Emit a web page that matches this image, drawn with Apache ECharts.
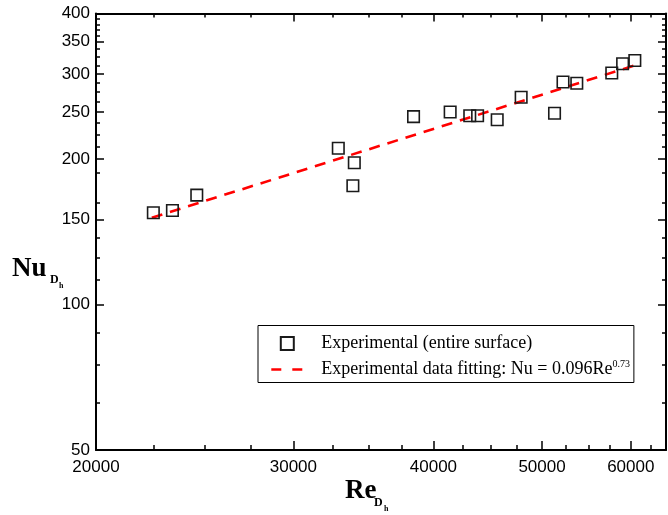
<!DOCTYPE html>
<html>
<head>
<meta charset="utf-8">
<title>Nu vs Re</title>
<script src="https://cdn.jsdelivr.net/npm/echarts@6/dist/echarts.min.js"></script>
<style>
  html, body { margin: 0; padding: 0; background: #fff; }
  #chart { width: 668px; height: 515px; }
</style>
</head>
<body>
<div id="chart"></div>
<script>
// measured points (Re_Dh, Nu_Dh)
var reValues = [22500, 23400, 24600, 32900, 34000, 33900, 38400, 41400, 43100,
                43800, 45600, 47900, 51300, 52200, 53700, 57700, 59000, 60500];
var nuValues = [154.8, 156.5, 168.4, 210.5, 196.5, 176.1, 244.7, 250.2, 245.7,
                245.7, 241.2, 268.4, 248.7, 288.7, 286.9, 301.3, 314.8, 319.8];

// fitting line end points
var fitRe = [22430, 61070];
var fitNu = [151.2, 314.5];

// ticks
var xMajorTicks = [20000, 30000, 40000, 50000, 60000];
var xMinorTicks = [22500, 25000, 27500, 32500, 35000, 37500, 42500, 45000, 47500,
                   52500, 55000, 57500, 62500];
var yMajorTicks = [50, 100, 150, 200, 250, 300, 350, 400];
var yMinorTicks = [62.5, 75, 87.5, 112.5, 125, 137.5, 162.5, 187.5, 212.5, 225, 237.5,
                   262.5, 275, 287.5, 312.5, 325, 337.5, 360, 370, 380, 390];

var xMin = 20000, xMax = 64500, yMin = 50, yMax = 400;

var scatterName = 'Experimental (entire surface)';
var fitName = 'Experimental data fitting: Nu = 0.096Re^0.73';

var chart = echarts.init(document.getElementById('chart'));

function frameAxis(position, ticks, len, withLabel, min, max, lineShow, isX) {
	var vals = ticks.map(function (t) { return Math.log10(t); });
	return {
		type: 'value',
		position: position,
		min: Math.log10(min),
		max: Math.log10(max),
		axisLine: { show: lineShow, onZero: false, lineStyle: { color: '#000', width: 2 } },
		axisTick: { show: true, inside: true, length: len, customValues: vals,
			lineStyle: { color: '#000', width: 1.5 } },
		axisLabel: withLabel ? {
			show: true,
			customValues: vals,
			margin: isX ? 9 : 6,
			color: '#000',
			fontFamily: '"Liberation Sans", Arial, sans-serif',
			fontSize: 17,
			formatter: function (v) { return String(Math.round(Math.pow(10, v))); }
		} : { show: false },
		splitLine: { show: false },
		minorTick: { show: false }
	};
}

var seriesData = reValues.map(function (re, i) { return [re, nuValues[i]]; });
var fitData = fitRe.map(function (re, i) { return [re, fitNu[i]]; });

var serif = '"Liberation Serif", "Times New Roman", serif';

var option = {
	animation: false,
	backgroundColor: '#fff',
	grid: { left: 96, right: 2, top: 13.5, bottom: 65, containLabel: false },
	xAxis: [
		{ type: 'log', logBase: 10, min: xMin, max: xMax, show: false },
		frameAxis('bottom', xMajorTicks, 9, true, xMin, xMax, true, true),
		frameAxis('bottom', xMinorTicks, 5, false, xMin, xMax, false, true),
		frameAxis('top', xMajorTicks, 8, false, xMin, xMax, true, true),
		frameAxis('top', xMinorTicks, 4, false, xMin, xMax, false, true)
	],
	yAxis: [
		{ type: 'log', logBase: 10, min: yMin, max: yMax, show: false },
		frameAxis('left', yMajorTicks, 8, true, yMin, yMax, true, false),
		frameAxis('left', yMinorTicks, 4, false, yMin, yMax, false, false),
		frameAxis('right', yMajorTicks, 8, false, yMin, yMax, true, false),
		frameAxis('right', yMinorTicks, 4, false, yMin, yMax, false, false)
	],
	legend: {
		orient: 'vertical',
		left: 258,
		top: 325.5,
		backgroundColor: '#fff',
		borderColor: '#000',
		borderWidth: 1,
		borderRadius: 0,
		padding: [9, 4, 4, 12],
		itemWidth: 32,
		itemHeight: 13,
		itemGap: 7,
		symbolKeepAspect: true,
		data: [
			{ name: scatterName, icon: 'path://M0,0H10V10H0Z' },
			{ name: fitName,
				itemStyle: { color: 'transparent', borderWidth: 0, opacity: 0 },
				lineStyle: { color: '#ff0000', width: 2.6, type: [10, 11] } }
		],
		formatter: function (name) {
			if (name === fitName) {
				return '{t|Experimental data fitting: Nu = 0.096Re}{s|0.73}';
			}
			return '{t|' + name + '}';
		},
		textStyle: {
			color: '#000',
			rich: {
				t: { fontFamily: serif, fontSize: 18, lineHeight: 20, padding: [0, 0, 0, 13], color: '#000' },
				s: { fontFamily: serif, fontSize: 10, lineHeight: 6, verticalAlign: 'top', color: '#000' }
			}
		}
	},
	graphic: [
		{ type: 'text', left: 345, top: 478, style: { text: 'Re', fill: '#000', font: 'bold 27px ' + serif } },
		{ type: 'text', left: 374, top: 497, style: { text: 'D', fill: '#000', font: 'bold 12px ' + serif } },
		{ type: 'text', left: 384, top: 505, style: { text: 'h', fill: '#000', font: 'bold 8px ' + serif } },
		{ type: 'text', left: 12, top: 256, style: { text: 'Nu', fill: '#000', font: 'bold 27px ' + serif } },
		{ type: 'text', left: 50, top: 274, style: { text: 'D', fill: '#000', font: 'bold 12px ' + serif } },
		{ type: 'text', left: 59, top: 282, style: { text: 'h', fill: '#000', font: 'bold 8px ' + serif } }
	],
	series: [
		{
			name: fitName,
			type: 'line',
			xAxisIndex: 0,
			yAxisIndex: 0,
			data: fitData,
			symbol: 'none',
			z: 2,
			lineStyle: { color: '#ff0000', width: 2.6, type: [11, 8] },
			itemStyle: { color: '#ff0000' }
		},
		{
			name: scatterName,
			type: 'scatter',
			xAxisIndex: 0,
			yAxisIndex: 0,
			data: seriesData,
			symbol: 'rect',
			symbolSize: 11.5,
			z: 3,
			itemStyle: { color: 'transparent', borderColor: '#1a1a1a', borderWidth: 1.6, opacity: 1 }
		}
	]
};

chart.setOption(option, true);
</script>
</body>
</html>
